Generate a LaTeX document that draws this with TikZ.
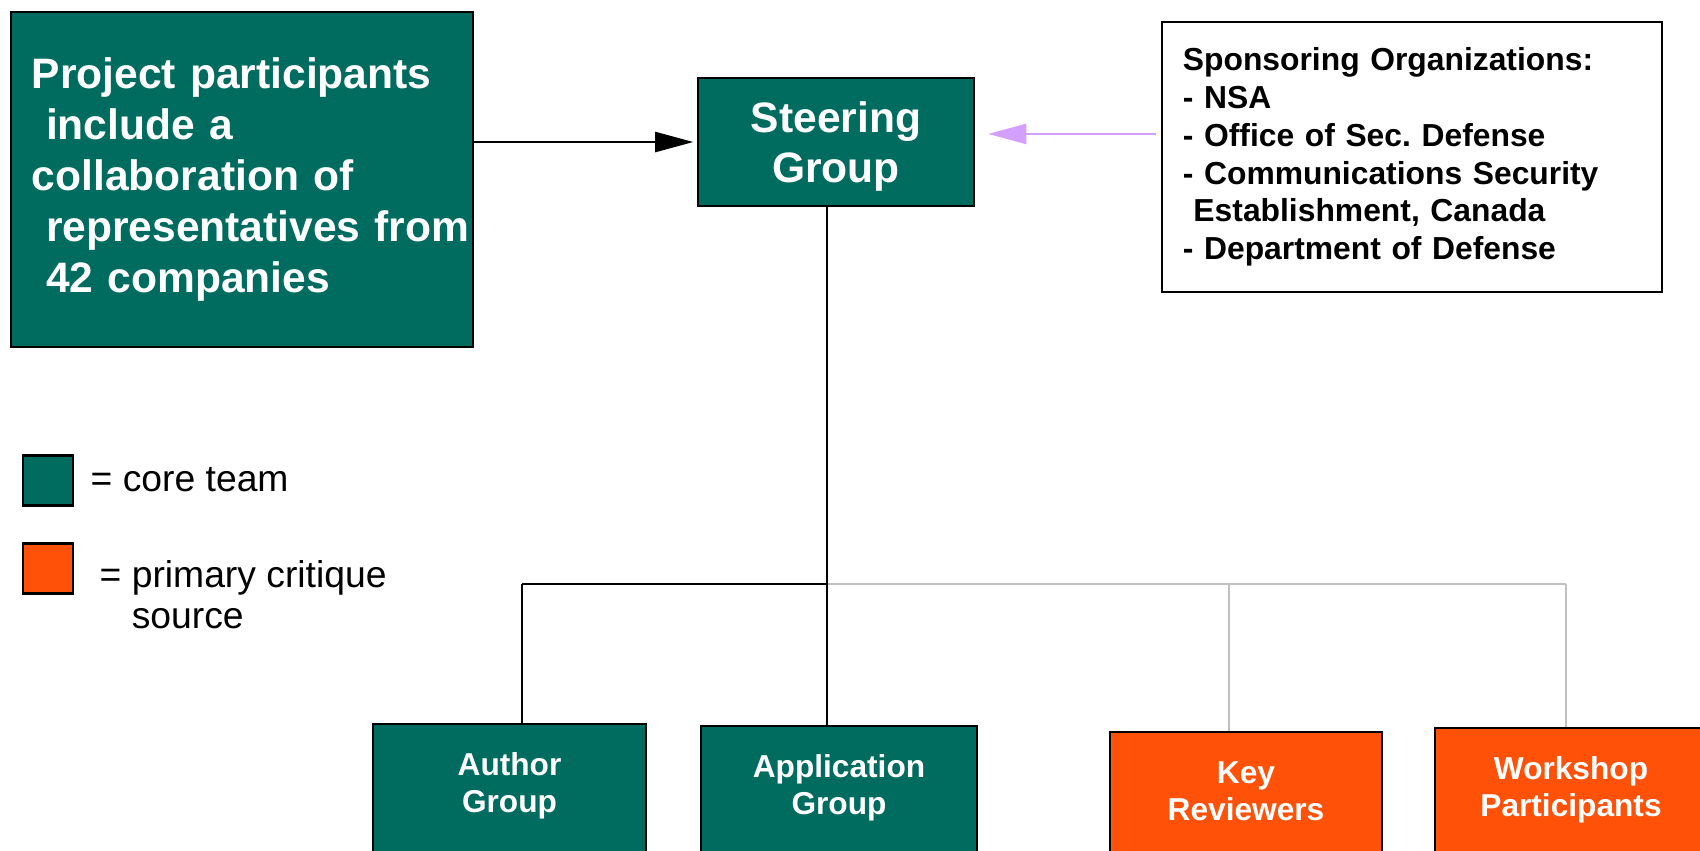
\documentclass[tikz,border=0pt]{standalone}
\usepackage{fontspec}
\setmainfont{Liberation Sans}
\usetikzlibrary{arrows.meta,positioning,calc}
\frenchspacing

\definecolor{coreteal}{RGB}{0,107,95}
\definecolor{critorange}{RGB}{255,82,8}
\definecolor{sponsorlilac}{RGB}{212,160,255}
\definecolor{busgray}{RGB}{192,192,192}

\tikzset{
  groupbox/.style={draw=black,line width=0.65pt,fill=coreteal,text=white,inner sep=0pt},
  critbox/.style={groupbox,fill=critorange},
  grouplabel/.style={anchor=north,align=center,text=white,inner sep=0pt,
    font=\bfseries\fontsize{9}{10.5}\selectfont},
  bus/.style={line width=0.6pt},
  graybus/.style={draw=busgray,line width=0.6pt},
  legendtxt/.style={anchor=base west,inner sep=0pt,font=\fontsize{10.6}{11.7}\selectfont},
}

\begin{document}
\begin{tikzpicture}[x=0.01cm,y=-0.01cm]
  \useasboundingbox (0,0) rectangle (1700,850);
  \clip (0,0) rectangle (1700,850);

  % top row: participants, steering group, sponsors
  \node[groupbox,minimum width=4.62cm,minimum height=3.35cm,text width=4.2cm,inner xsep=0.21cm,
        align=left,font=\bfseries\fontsize{12.1}{14.5}\selectfont] (participants) at (242,179.5)
    {Project participants\\\ include a\\collaboration of\\\mbox{\ representatives from}\\\ 42 companies};
  \node[groupbox,minimum width=2.76cm,minimum height=1.28cm,align=center,
        font=\bfseries\fontsize{12.1}{14.2}\selectfont] (steering) at (836,142)
    {\rule{0pt}{11.2pt}Steering\\Group};
  \node[draw=black,line width=0.65pt,fill=white,minimum width=5cm,minimum height=2.7cm,
        text width=4.58cm,inner xsep=0.21cm,inner ysep=0pt,align=left,
        font=\bfseries\fontsize{9.05}{10.75}\selectfont] (sponsors) at (1412,157)
    {Sponsoring Organizations:\\- NSA\\- Office of Sec. Defense\\- Communications Security\\\ Establishment, Canada\\- Department of Defense};

  \draw[-{Triangle[length=3.8mm,width=2mm]},line width=0.65pt,shorten >=1pt]
    (participants.east |- steering.west) -- (steering.west);
  \coordinate (sponsorfoot) at (steering.east -| sponsors.west);
  \draw[-{Triangle[length=3.8mm,width=2mm]},draw=sponsorlilac,fill=sponsorlilac,line width=0.65pt,
        shorten <=1.4pt,shorten >=3.7pt]
    ([yshift=2.3pt]sponsorfoot) -- ([yshift=2.3pt]steering.east);

  % legend
  \node[groupbox,minimum size=0.5cm] (corekey) at (48,480.5) {};
  \node[critbox,minimum size=0.5cm] (critkey) at (48,568.5) {};
  \node[legendtxt] (coretxt) at (90,491) {= core team};
  \node[legendtxt] (crittxt) at (99,587)
    {= \begin{tabular}[t]{@{}l@{}}primary critique\\source\end{tabular}};

  % working groups, cut off by the lower edge
  \node[groupbox,anchor=north,minimum width=2.73cm,minimum height=2cm,
        label={[grouplabel,name=authortxt,yshift=-0.29cm]north:Author\\Group}] (author) at (509.5,723) {};
  \node[groupbox,anchor=north,minimum width=2.76cm,minimum height=2cm,
        label={[grouplabel,name=apptxt,yshift=-0.29cm]north:Application\\Group}] (application) at (839,725) {};
  \node[critbox,anchor=north,minimum width=2.72cm,minimum height=2cm,
        label={[grouplabel,name=keytxt,yshift=-0.3cm]north:Key\\Reviewers}] (key) at (1246,731) {};
  \node[critbox,anchor=north,minimum width=2.72cm,minimum height=2cm,
        label={[grouplabel,name=worktxt,yshift=-0.29cm]north:Workshop\\Participants}] (workshop) at (1571,727) {};

  % tree below the steering group
  \coordinate (hub) at (827,584);
  \coordinate (authorjoin) at (522,584);
  \coordinate (keyjoin) at (1229,584);
  \coordinate (workjoin) at (1566,584);
  \draw[graybus] (hub) -- (workjoin);
  \draw[graybus,line width=0.45pt] (keyjoin) -- (keyjoin |- key.north);
  \draw[graybus,line width=0.45pt] (workjoin) -- (workjoin |- workshop.north);
  \draw[bus] (steering.south -| hub) -- (hub |- application.north);
  \draw[bus] (authorjoin) -- (authorjoin |- author.north);
  \draw[bus,line width=0.75pt] (authorjoin) -- (hub);
\end{tikzpicture}
\end{document}
